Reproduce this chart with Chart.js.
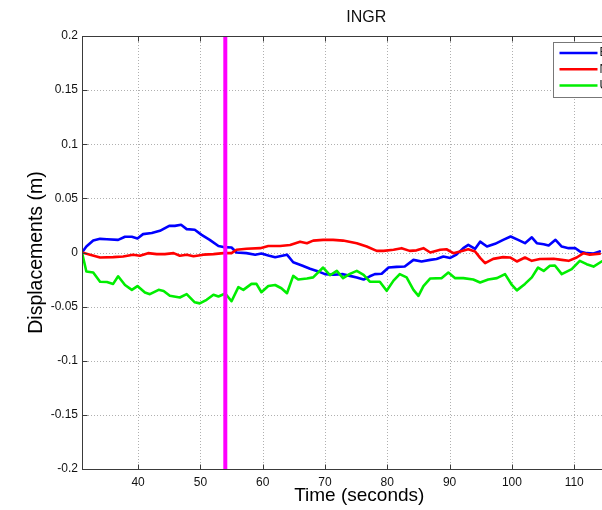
<!DOCTYPE html>
<html>
<head>
<meta charset="utf-8">
<title>INGR</title>
<script src="https://cdn.jsdelivr.net/npm/chart.js@4.4.1/dist/chart.umd.min.js"></script>
<style>
  html, body { margin: 0; padding: 0; background: #fff; overflow: hidden; }
  #wrap { width: 602px; height: 510px; overflow: hidden; }
  canvas { display: block; }
</style>
</head>
<body>
<div id="wrap"><canvas id="ingrChart" width="660" height="510"></canvas></div>
<script>
// labels
const chartTitle = 'INGR';
const xAxisTitle = 'Time (seconds)';
const yAxisTitle = 'Displacements (m)';
const seriesNames = ['East', 'North', 'Up'];

// ticks
const xTicks = [40, 50, 60, 70, 80, 90, 100, 110, 120];
const yTicks = [-0.2, -0.15, -0.1, -0.05, 0, 0.05, 0.1, 0.15, 0.2];
const yTickLabels = ['-0.2', '-0.15', '-0.1', '-0.05', '0', '0.05', '0.1', '0.15', '0.2'];

// marker line (seconds)
const eventTime = 54;

// blue series
const blueTime = [31.0, 31.7, 32.8, 33.9, 35.0, 36.8, 37.9, 39.0, 39.9, 40.8,
  42.2, 43.5, 45.0, 45.9, 46.9, 47.8, 49.1, 50.2, 51.5, 52.9,
  53.7, 55.0, 55.8, 57.4, 58.8, 59.8, 60.9, 62.0, 63.9, 64.9,
  66.3, 67.6, 68.7, 70.0, 71.3, 72.9, 74.0, 75.1, 76.2, 77.2,
  78.0, 79.1, 80.2, 81.5, 82.8, 84.2, 85.5, 86.9, 87.9, 89.0,
  90.1, 91.1, 92.2, 93.0, 94.1, 94.9, 96.0, 97.3, 98.6, 99.8,
  101.0, 102.1, 103.2, 104.0, 105.1, 105.9, 107.0, 108.0, 109.1, 110.2,
  110.9, 112.0, 113.1, 114.1];
const blueDisp = [0, 0.0055, 0.011, 0.0126, 0.0123, 0.0117, 0.0145, 0.0145, 0.013, 0.017,
  0.018, 0.020, 0.0246, 0.0246, 0.0256, 0.0216, 0.021, 0.0163, 0.0117, 0.006,
  0.005, 0.0046, 0, -0.0006, -0.002, -0.001, -0.0028, -0.0043, -0.002, -0.009,
  -0.012, -0.015, -0.017, -0.020, -0.0206, -0.020, -0.0216, -0.023, -0.025, -0.022,
  -0.020, -0.0197, -0.0139, -0.0133, -0.013, -0.0068, -0.0083, -0.0068, -0.006, -0.0037,
  -0.005, -0.002, 0.004, 0.007, 0.0034, 0.010, 0.0055, 0.008, 0.0117, 0.0148,
  0.0117, 0.0086, 0.014, 0.0086, 0.0077, 0.0065, 0.0117, 0.0055, 0.004, 0.004,
  0.001, -0.0006, -0.001, 0.001];

// red series
const redTime = [31.0, 32.3, 33.9, 36.0, 37.6, 39.2, 40.3, 41.6, 43.0, 44.3,
  45.7, 46.7, 47.8, 48.9, 50.5, 52.1, 53.7, 55.0, 55.8, 57.4,
  59.6, 60.9, 62.8, 64.4, 66.0, 67.1, 68.1, 69.7, 71.3, 72.9,
  75.1, 76.7, 78.3, 79.4, 81.0, 82.3, 83.6, 84.7, 85.8, 86.9,
  88.5, 89.5, 90.6, 91.7, 93.0, 94.1, 94.9, 95.7, 97.0, 98.6,
  99.7, 100.8, 102.1, 103.2, 104.5, 106.7, 108.0, 109.1, 110.4, 111.5,
  112.5, 114.1];
const redDisp = [0, -0.002, -0.0046, -0.0043, -0.0037, -0.002, -0.003, -0.0006, -0.0015, -0.0015,
  -0.0006, -0.003, -0.002, -0.0034, -0.002, -0.0015, -0.0006, -0.0006, 0.0025, 0.0034,
  0.004, 0.006, 0.006, 0.007, 0.010, 0.0086, 0.011, 0.0117, 0.0117, 0.011,
  0.0086, 0.0055, 0.0015, 0.0015, 0.0025, 0.004, 0.0015, 0.002, 0.004, 0,
  0.0025, 0.003, -0.0006, 0.001, 0.003, 0.001, -0.005, -0.0099, -0.0059, -0.0043,
  -0.0046, -0.0083, -0.0046, -0.0077, -0.006, -0.0058, -0.0068, -0.0077, -0.0046, -0.0006,
  -0.002, -0.0012];

// green series
const greenTime = [31.0, 31.7, 32.8, 33.9, 35.0, 36.0, 36.8, 37.9, 39.0, 39.9,
  41.1, 41.9, 43.3, 44.1, 45.1, 46.7, 47.8, 49.1, 49.9, 51.0,
  52.1, 52.9, 54.0, 55.0, 56.1, 56.9, 58.2, 59.0, 59.8, 60.9,
  62.0, 63.0, 63.9, 64.9, 65.7, 67.1, 68.1, 69.7, 70.8, 71.9,
  72.9, 74.0, 75.1, 76.2, 77.2, 78.8, 79.9, 81.0, 82.0, 83.1,
  84.2, 85.0, 85.8, 86.9, 88.7, 89.8, 90.9, 92.2, 93.8, 94.9,
  96.2, 97.6, 98.9, 100.0, 100.8, 102.1, 103.2, 104.2, 105.1, 106.1,
  106.9, 108.0, 109.6, 110.9, 112.0, 113.1, 114.4];
const greenDisp = [0, -0.0176, -0.0185, -0.027, -0.0273, -0.029, -0.022, -0.030, -0.0345, -0.031,
  -0.037, -0.0385, -0.0345, -0.0355, -0.040, -0.0416, -0.0385, -0.046, -0.047, -0.0437,
  -0.039, -0.0406, -0.0379, -0.045, -0.032, -0.0345, -0.029, -0.029, -0.0367, -0.031,
  -0.030, -0.033, -0.0376, -0.0216, -0.025, -0.024, -0.023, -0.0139, -0.021, -0.017,
  -0.0237, -0.0197, -0.017, -0.0206, -0.027, -0.027, -0.0354, -0.026, -0.020, -0.023,
  -0.0345, -0.040, -0.031, -0.024, -0.0237, -0.0185, -0.0237, -0.0237, -0.025, -0.0277,
  -0.025, -0.0237, -0.020, -0.030, -0.035, -0.029, -0.023, -0.0139, -0.017, -0.0123,
  -0.012, -0.020, -0.0154, -0.0077, -0.0108, -0.013, -0.0083];

const fontFamily = "'Liberation Sans', Arial, Helvetica, sans-serif";
const frameColor = '#3a3a3a';

function toPoints(times, values) {
    return times.map((t, i) => ({ x: t, y: values[i] }));
}

// matlab style axes: dotted grid, boxed frame with inward ticks, title and legend
const matlabAxes = {
    id: 'matlabAxes',
    beforeDatasetsDraw(chart) {
        const { ctx, chartArea: a, scales: { x, y } } = chart;
        ctx.save();
        ctx.strokeStyle = '#b0b0b0';
        ctx.lineWidth = 1;
        ctx.setLineDash([1, 2]);
        x.ticks.forEach(t => {
            const px = Math.round(x.getPixelForValue(t.value)) + 0.5;
            ctx.beginPath();
            ctx.moveTo(px, a.top);
            ctx.lineTo(px, a.bottom);
            ctx.stroke();
        });
        y.ticks.forEach(t => {
            const py = Math.round(y.getPixelForValue(t.value)) + 0.5;
            ctx.beginPath();
            ctx.moveTo(a.left, py);
            ctx.lineTo(a.right, py);
            ctx.stroke();
        });
        ctx.restore();
    },
    afterDatasetsDraw(chart) {
        const { ctx, chartArea: a, scales: { x, y } } = chart;
        const l = Math.round(a.left) + 0.5, r = Math.round(a.right) + 0.5;
        const t = Math.round(a.top) + 0.5, b = Math.round(a.bottom) + 0.5;
        const tick = 5;
        ctx.save();
        ctx.strokeStyle = frameColor;
        ctx.lineWidth = 1;
        ctx.strokeRect(l, t, r - l, b - t);
        ctx.beginPath();
        x.ticks.forEach(tk => {
            const px = Math.round(x.getPixelForValue(tk.value)) + 0.5;
            ctx.moveTo(px, b); ctx.lineTo(px, b - tick);
            ctx.moveTo(px, t); ctx.lineTo(px, t + tick);
        });
        y.ticks.forEach(tk => {
            const py = Math.round(y.getPixelForValue(tk.value)) + 0.5;
            ctx.moveTo(l, py); ctx.lineTo(l + tick, py);
            ctx.moveTo(r, py); ctx.lineTo(r - tick, py);
        });
        ctx.stroke();
        ctx.restore();
    },
    afterDraw(chart) {
        const { ctx, chartArea: a } = chart;
        ctx.save();
        // title
        ctx.fillStyle = '#111';
        ctx.font = '16px ' + fontFamily;
        ctx.textAlign = 'center';
        ctx.textBaseline = 'middle';
        ctx.fillText(chartTitle, (a.left + a.right) / 2 + 7, 18);

        // legend box
        const bx = Math.round(a.right - 84) + 0.5;
        const by = Math.round(a.top + 6) + 0.5;
        const bw = 80, bh = 55;
        ctx.fillStyle = '#fff';
        ctx.fillRect(bx, by, bw, bh);
        ctx.strokeStyle = '#777';
        ctx.lineWidth = 1;
        ctx.strokeRect(bx, by, bw, bh);
        const items = chart.data.datasets.filter(d => seriesNames.includes(d.label));
        items.forEach((d, i) => {
            const ly = by + 10.5 + i * 16.3;
            ctx.strokeStyle = d.borderColor;
            ctx.lineWidth = 2.5;
            ctx.beginPath();
            ctx.moveTo(bx + 6, ly);
            ctx.lineTo(bx + 44, ly);
            ctx.stroke();
            ctx.fillStyle = '#111';
            ctx.font = '12px ' + fontFamily;
            ctx.textAlign = 'left';
            ctx.textBaseline = 'middle';
            ctx.fillText(d.label, bx + 46, ly);
        });
        ctx.restore();
    }
};

const ctx = document.getElementById('ingrChart').getContext('2d');

new Chart(ctx, {
    type: 'line',
    data: {
        datasets: [
            {
                label: 'event',
                data: [{ x: eventTime, y: yTicks[0] }, { x: eventTime, y: yTicks[yTicks.length - 1] }],
                borderColor: '#ff00ff',
                borderWidth: 4,
                order: 0
            },
            {
                label: seriesNames[0],
                data: toPoints(blueTime, blueDisp),
                borderColor: '#0000ff',
                borderWidth: 2.6,
                order: 3
            },
            {
                label: seriesNames[1],
                data: toPoints(redTime, redDisp),
                borderColor: '#ff0000',
                borderWidth: 2.6,
                order: 2
            },
            {
                label: seriesNames[2],
                data: toPoints(greenTime, greenDisp),
                borderColor: '#00ee00',
                borderWidth: 2.6,
                order: 1
            }
        ]
    },
    options: {
        responsive: false,
        animation: false,
        events: [],
        elements: {
            point: { radius: 0 },
            line: { tension: 0, borderCapStyle: 'round', borderJoinStyle: 'round' }
        },
        layout: {
            padding: { top: 36, right: 23.5, left: 0, bottom: 0 }
        },
        plugins: {
            legend: { display: false },
            title: { display: false },
            tooltip: { enabled: false }
        },
        scales: {
            x: {
                type: 'linear',
                min: 31,
                max: 120,
                grid: { display: false, drawTicks: false },
                border: { display: false },
                afterBuildTicks: scale => {
                    scale.ticks = xTicks.map(v => ({ value: v }));
                },
                afterFit: scale => {
                    scale.height = 41;
                },
                ticks: {
                    autoSkip: false,
                    maxRotation: 0,
                    padding: 6,
                    color: '#111',
                    font: { family: fontFamily, size: 12 }
                },
                title: {
                    display: true,
                    text: xAxisTitle,
                    color: '#000',
                    font: { family: fontFamily, size: 19 },
                    padding: { top: 0, bottom: 3 }
                }
            },
            y: {
                type: 'linear',
                min: -0.2,
                max: 0.2,
                grid: { display: false, drawTicks: false },
                border: { display: false },
                afterBuildTicks: scale => {
                    scale.ticks = yTicks.map(v => ({ value: v }));
                },
                afterFit: scale => {
                    scale.width = 82;
                },
                ticks: {
                    padding: 4,
                    color: '#111',
                    font: { family: fontFamily, size: 12 },
                    callback: (value, index) => yTickLabels[index]
                },
                title: {
                    display: true,
                    text: yAxisTitle,
                    color: '#000',
                    font: { family: fontFamily, size: 19.5 },
                    padding: { top: 25, bottom: 0 }
                }
            }
        }
    },
    plugins: [matlabAxes]
});
</script>
</body>
</html>
